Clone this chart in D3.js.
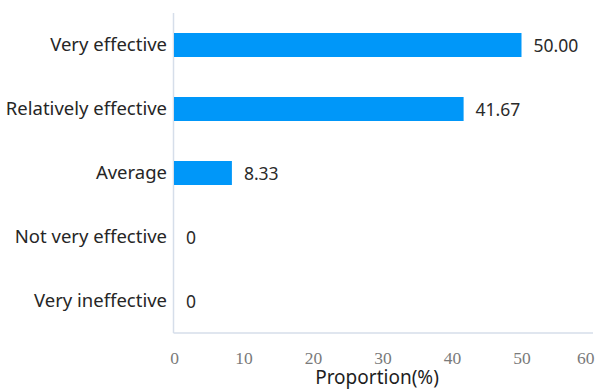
<!DOCTYPE html>
<html>
<head>
<meta charset="utf-8">
<script src="https://cdn.jsdelivr.net/npm/d3@7"></script>
<style>
  html, body { margin: 0; padding: 0; background: #fff; }
  svg { display: block; }
</style>
</head>
<body>
<svg id="chart" width="595" height="389"></svg>
<script>
// Effectiveness ratings and their share of responses (%)
const categories = ["Very effective", "Relatively effective", "Average", "Not very effective", "Very ineffective"];
const values = [50.00, 41.67, 8.33, 0, 0];
const valueLabels = ["50.00", "41.67", "8.33", "0", "0"];
const xTicks = [0, 10, 20, 30, 40, 50, 60];

(function () {
  const svg = d3.select("#chart");
  const plotLeft = 174, plotRight = 591, plotTop = 13, plotBottom = 333;
  const sans = "'Noto Sans', 'Open Sans', sans-serif";

  const x = d3.scaleLinear().domain([0, 60]).range([plotLeft, plotRight]);
  const y = d3.scaleBand().domain(categories).range([plotTop, plotBottom])
    .paddingInner(0.625).paddingOuter(0.3125);

  // axis lines
  svg.append("line").attr("x1", plotLeft - 0.5).attr("x2", plotLeft - 0.5)
    .attr("y1", plotTop).attr("y2", plotBottom)
    .attr("stroke", "#d6deea").attr("stroke-width", 1.5);
  svg.append("line").attr("x1", plotLeft - 0.5).attr("x2", 593)
    .attr("y1", plotBottom).attr("y2", plotBottom)
    .attr("stroke", "#d6deea").attr("stroke-width", 1.5);

  // bars
  svg.append("g").selectAll("rect").data(values).join("rect")
    .attr("x", x(0))
    .attr("y", (d, i) => y(categories[i]))
    .attr("width", d => x(d) - x(0))
    .attr("height", y.bandwidth())
    .attr("fill", "#0097f9");

  // value labels
  svg.append("g").selectAll("text").data(values).join("text")
    .attr("x", d => x(d) + 12)
    .attr("y", (d, i) => y(categories[i]) + y.bandwidth() / 2 + 1)
    .attr("dy", "0.36em")
    .attr("font-family", sans)
    .attr("font-size", 17.5)
    .attr("fill", "#2a2a2a")
    .text((d, i) => valueLabels[i]);

  // category labels
  const yAxis = d3.axisLeft(y).tickSize(0).tickPadding(6);
  const gy = svg.append("g").attr("transform", `translate(${plotLeft - 1},0)`).call(yAxis);
  gy.select(".domain").remove();
  gy.selectAll("text")
    .attr("font-family", sans)
    .attr("font-size", 18.5)
    .attr("fill", "#262626");

  // x tick labels
  const xAxis = d3.axisBottom(x).tickValues(xTicks).tickSize(0).tickPadding(0);
  const gx = svg.append("g").attr("transform", "translate(0,352)").call(xAxis);
  gx.select(".domain").remove();
  gx.selectAll("text")
    .attr("font-family", "'Liberation Serif', 'Times New Roman', serif")
    .attr("font-size", 17.5)
    .attr("fill", "#7a7a7a");
  // keep the last label inside the frame
  gx.selectAll("text").filter(d => d === xTicks[xTicks.length - 1])
    .attr("text-anchor", "end").attr("dx", 3);

  // axis title
  svg.append("text")
    .attr("x", 377).attr("y", 384)
    .attr("text-anchor", "middle")
    .attr("font-family", sans)
    .attr("font-size", 19)
    .attr("fill", "#1e1e1e")
    .text("Proportion(%)");
})();
</script>
</body>
</html>
